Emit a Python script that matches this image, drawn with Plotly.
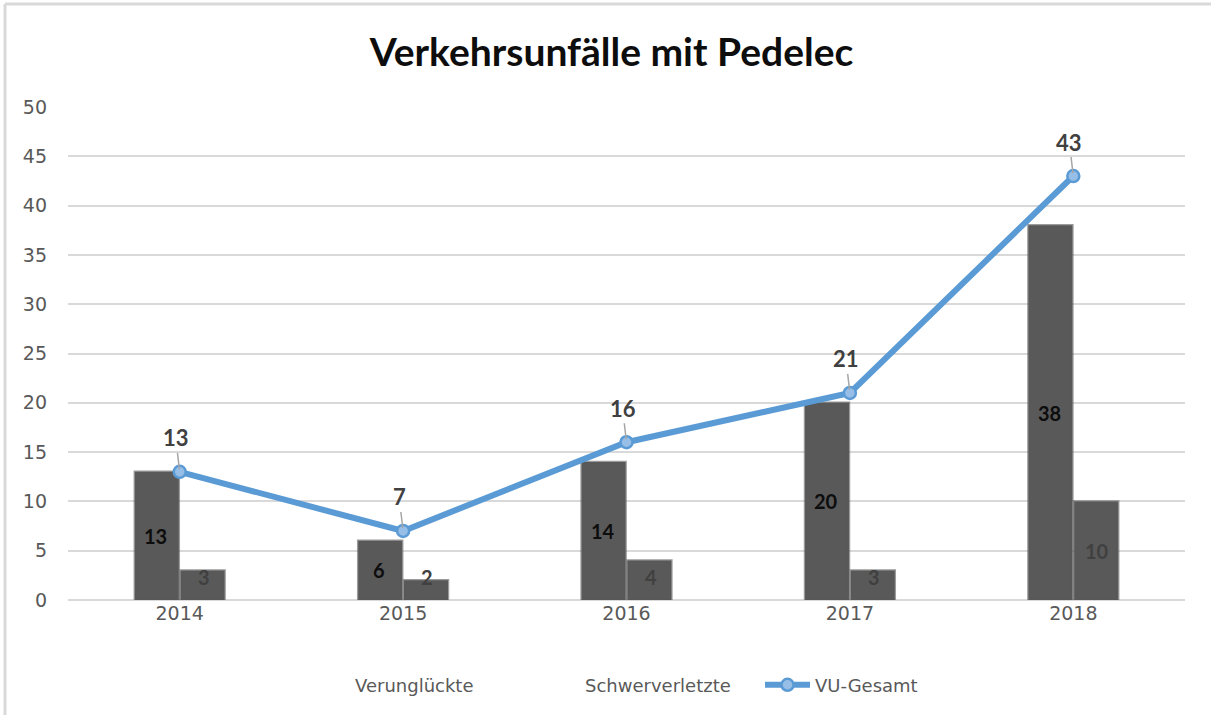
import plotly.graph_objects as go

years = ["2014", "2015", "2016", "2017", "2018"]
verunglueckte = [13, 6, 14, 20, 38]
schwerverletzte = [3, 2, 4, 3, 10]
vu_gesamt = [13, 7, 16, 21, 43]
y_ticks = [0, 5, 10, 15, 20, 25, 30, 35, 40, 45, 50]

BAR = "#595959"
BLUE = "#5B9BD5"
TICK = "#595959"

fig = go.Figure()
# legend-only entries (text without visible swatch for the bars)
for nm in ["Verunglückte", "Schwerverletzte"]:
    fig.add_trace(go.Scatter(x=[years[0]], y=[None], name=nm, mode="lines",
                             line=dict(color="rgba(0,0,0,0)", width=6),
                             hoverinfo="skip"))
fig.add_trace(go.Bar(
    x=years, y=verunglueckte, name="Verunglückte", showlegend=False,
    marker=dict(color=BAR, line=dict(color="rgba(89,89,89,0.6)", width=2.5)),
))
fig.add_trace(go.Bar(
    x=years, y=schwerverletzte, name="Schwerverletzte", showlegend=False,
    marker=dict(color=BAR, line=dict(color="rgba(89,89,89,0.6)", width=2.5)),
))
fig.add_trace(go.Scatter(
    x=years, y=vu_gesamt, name="VU-Gesamt", mode="lines+markers",
    line=dict(color=BLUE, width=6),
    marker=dict(symbol="circle", size=12, color="rgba(150,190,230,1)",
                line=dict(color=BLUE, width=2.5)),
))

annotations = []
for i, v in enumerate(verunglueckte):
    annotations.append(dict(x=i, y=v / 2, xref="x", yref="y", xshift=-24,
                            text=f"<b>{v}</b>", showarrow=False,
                            font=dict(family="Lato", size=20, color="#0d0d0d")))
for i, v in enumerate(schwerverletzte):
    annotations.append(dict(x=i, y=max(v / 2, 2.3), xref="x", yref="y", xshift=24,
                            text=f"<b>{v}</b>", showarrow=False,
                            font=dict(family="Lato", size=20, color="#404040")))
for i, v in enumerate(vu_gesamt):
    annotations.append(dict(x=i, y=v, xref="x", yref="y",
                            text=f"<b>{v}</b>", showarrow=True, arrowhead=0,
                            arrowcolor="#A6A6A6", arrowwidth=1.5,
                            ax=-4, ay=-34, standoff=3,
                            font=dict(family="Lato", size=22, color="#404040")))

fig.update_layout(
    width=1211, height=715,
    paper_bgcolor="white", plot_bgcolor="white",
    margin=dict(l=68, r=26, t=107, b=115),
    barmode="group", bargap=0.59, bargroupgap=0.04,
    title=dict(text="<b>Verkehrsunfälle mit Pedelec</b>", x=0.505, xanchor="center",
               y=0.927, yanchor="middle",
               font=dict(family="Lato", size=39, color="#0d0d0d")),
    xaxis=dict(type="category", categoryorder="array", categoryarray=years,
               range=[-0.5, len(years) - 0.5],
               showgrid=False, showline=False, ticks="",
               tickfont=dict(family="DejaVu Sans", size=19, color=TICK)),
    yaxis=dict(range=[0, 50], tickvals=y_ticks, showgrid=True, gridcolor="#D9D9D9",
               gridwidth=1.5, zeroline=True, zerolinecolor="#D9D9D9", zerolinewidth=1.5,
               ticks="", ticklabelstandoff=20,
               tickfont=dict(family="DejaVu Sans", size=19, color=TICK)),
    legend=dict(orientation="h", x=(300 - 68) / 1117, xanchor="left",
                y=-0.135, yanchor="top",
                font=dict(family="DejaVu Sans", size=18, color=TICK),
                itemwidth=45, entrywidth=170, entrywidthmode="pixels",
                traceorder="normal"),
    annotations=annotations,
    showlegend=True,
    shapes=[
        dict(type="line", xref="paper", yref="paper", x0=-63 / 1117, x1=1.1,
             y0=1 + 103 / 493, y1=1 + 103 / 493, line=dict(color="#D9D9D9", width=3)),
        dict(type="line", xref="paper", yref="paper", x0=-63 / 1117, x1=-63 / 1117,
             y0=-0.3, y1=1 + 103 / 493, line=dict(color="#D9D9D9", width=3)),
    ],
)

fig.write_html("out.html", config={"displayModeBar": False},
               post_script="document.body.style.margin='0';")
